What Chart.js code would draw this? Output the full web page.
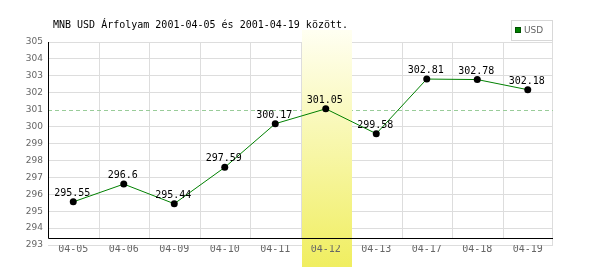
<!DOCTYPE html>
<html><head><meta charset="utf-8">
<script src="https://cdn.jsdelivr.net/npm/chart.js@4/dist/chart.umd.min.js"></script>
<style>html,body{margin:0;padding:0;background:#fff}#w{width:600px;height:270px}</style>
</head><body><div id="w"><canvas id="c" width="600" height="270"></canvas></div>
<script>
const categories = ['04-05','04-06','04-09','04-10','04-11','04-12','04-13','04-17','04-18','04-19'];
const usdValues = [295.55, 296.6, 295.44, 297.59, 300.17, 301.05, 299.58, 302.81, 302.78, 302.18];
const yMin = 293, yMax = 305, yStep = 1;
const refLineValue = 301;
const axisBaseValue = 293.42;
const highlightCategory = '04-12';
const titleText = 'MNB USD Árfolyam 2001-04-05 és 2001-04-19 között.';
const seriesName = 'USD';

const MONO = '"DejaVu Sans Mono", monospace';
const SANS = '"DejaVu Sans", sans-serif';

const deco = {
  id: 'deco',
  beforeDatasetsDraw(chart) {
    const {ctx, chartArea: a, scales: {x, y}} = chart;
    const half = (x.getPixelForValue(1) - x.getPixelForValue(0)) / 2;
    const baseY = Math.round(y.getPixelForValue(axisBaseValue)) + 0.5;
    ctx.save();
    ctx.strokeStyle = '#dddddd'; ctx.lineWidth = 1;
    for (let i = 1; i < categories.length; i++) {
      const px = Math.round(x.getPixelForValue(i) - half) + 0.5;
      ctx.beginPath(); ctx.moveTo(px, a.top); ctx.lineTo(px, baseY); ctx.stroke();
    }
    const rx = Math.round(a.right) - 0.5;
    ctx.beginPath(); ctx.moveTo(rx, a.top - 22); ctx.lineTo(rx, a.bottom); ctx.stroke();
    const ry = Math.round(y.getPixelForValue(refLineValue)) + 0.5;
    ctx.strokeStyle = '#99cc99'; ctx.setLineDash([4, 3]);
    ctx.beginPath(); ctx.moveTo(a.left, ry); ctx.lineTo(a.right, ry); ctx.stroke();
    ctx.setLineDash([]);
    const hi = categories.indexOf(highlightCategory);
    const cx = x.getPixelForValue(hi);
    const bTop = a.top - 12, bBot = a.bottom + 22;
    const g = ctx.createLinearGradient(0, bTop, 0, bBot);
    g.addColorStop(0, '#fffff2');
    g.addColorStop(1, '#f0ee60');
    ctx.fillStyle = g;
    ctx.fillRect(Math.round(cx - half) + 1, bTop, Math.round(2 * half) - 1, bBot - bTop);
    ctx.strokeStyle = '#000'; ctx.lineWidth = 1;
    const lx = Math.round(a.left) + 0.5;
    ctx.beginPath(); ctx.moveTo(lx, a.top); ctx.lineTo(lx, baseY); ctx.lineTo(a.right, baseY); ctx.stroke();
    ctx.restore();
  },
  afterDatasetsDraw(chart) {
    const {ctx} = chart;
    const meta = chart.getDatasetMeta(0);
    ctx.save();
    ctx.font = '10px ' + MONO;
    ctx.fillStyle = '#000';
    ctx.textAlign = 'center';
    ctx.textBaseline = 'alphabetic';
    meta.data.forEach((pt, i) => {
      ctx.fillText(String(usdValues[i]), pt.x - 1, pt.y - 6);
    });
    ctx.restore();
  },
  afterDraw(chart) {
    const {ctx, chartArea: a} = chart;
    ctx.save();
    ctx.font = '10px ' + MONO;
    ctx.fillStyle = '#000';
    ctx.textAlign = 'left'; ctx.textBaseline = 'alphabetic';
    ctx.fillText(titleText, a.left + 5, 28);
    const bx = Math.round(a.right) - 42, by = 20, bw = 41, bh = 20;
    ctx.fillStyle = '#fff'; ctx.fillRect(bx, by, bw, bh);
    ctx.strokeStyle = '#d8d8d8'; ctx.lineWidth = 1;
    ctx.strokeRect(bx + 0.5, by + 0.5, bw, bh);
    ctx.fillStyle = '#008000'; ctx.fillRect(bx + 4, by + 7, 6, 6);
    ctx.strokeStyle = '#005000'; ctx.strokeRect(bx + 4.5, by + 7.5, 5, 5);
    ctx.fillStyle = '#666'; ctx.font = '9px ' + SANS;
    ctx.textBaseline = 'middle';
    ctx.fillText(seriesName, bx + 13, by + 11);
    ctx.restore();
  }
};

new Chart(document.getElementById('c'), {
  type: 'line',
  data: {
    labels: categories,
    datasets: [{
      label: seriesName,
      data: usdValues,
      borderColor: '#008000',
      borderWidth: 1,
      tension: 0,
      pointRadius: 3.5,
      pointBorderWidth: 0,
      pointBackgroundColor: '#000',
      pointBorderColor: '#000'
    }]
  },
  options: {
    responsive: false,
    animation: false,
    devicePixelRatio: 1,
    layout: {padding: {top: 42, right: 47, bottom: 0, left: 0}},
    plugins: {legend: {display: false}, title: {display: false}, tooltip: {enabled: false}},
    scales: {
      x: {
        offset: true,
        grid: {display: false, drawTicks: false},
        border: {display: false},
        ticks: {z: 1, font: {family: MONO, size: 10}, color: '#666', padding: -2, maxRotation: 0, autoSkip: false},
        afterFit(s) { s.height = 25; }
      },
      y: {
        min: yMin, max: yMax,
        grid: {drawTicks: false, color: c => (c.tick && c.tick.value === refLineValue) ? 'rgba(0,0,0,0)' : '#dddddd'},
        border: {display: false},
        ticks: {stepSize: yStep, font: {family: SANS, size: 9}, color: '#666', padding: 5},
        afterFit(s) { s.width = 48; }
      }
    }
  },
  plugins: [deco]
});
</script>
</body></html>
